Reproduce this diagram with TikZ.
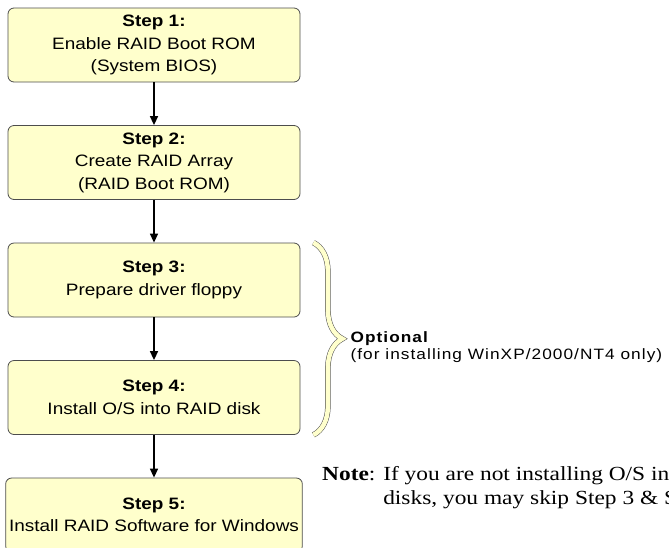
\documentclass[tikz,border=0pt]{standalone}
\usepackage{fontspec}
\setmainfont{Liberation Serif}
\newfontfamily\boxfont[FakeStretch=1.15]{Liberation Sans}
\newfontfamily\optfont[FakeStretch=1.15,LetterSpace=7]{Liberation Sans}
\newfontfamily\notefont[FakeStretch=1.17]{Liberation Serif}
\usepackage{xcolor}
\usetikzlibrary{decorations.pathreplacing,arrows.meta,positioning,calc}
\definecolor{boxyellow}{HTML}{FFFFCC}
\definecolor{boxline}{HTML}{4D4D4D}

\begin{document}
\begin{tikzpicture}[
    x=1pt,y=1pt,
    node distance=117.5pt,
    box/.style={rectangle,draw=boxline,line width=0.8pt,rounded corners=6pt,fill=boxyellow,minimum width=292pt,minimum height=74pt,align=center,font=\boxfont\fontsize{16.5}{22.5}\selectfont},
    arrow/.style={-{Triangle[length=9pt,width=8pt]},line width=1.5pt},
    optlabel/.style={align=left,inner sep=0pt,font=\optfont\fontsize{15}{17}\selectfont},
    notetext/.style={align=left,inner sep=0pt,font=\notefont\fontsize{20}{24.5}\selectfont},
    bracestyle/.style={decorate,decoration={brace,amplitude=29pt},draw=boxline,line width=0.5pt,double=boxyellow,double distance=4.5pt}
]
    \useasboundingbox (0,0) rectangle (669,-547);
    \clip (0,0) rectangle (669,-547);

    % Nodes
    \node[box] (step1) at (154,-45) {\textbf{Step 1:}\\Enable RAID Boot ROM\\(System BIOS)};
    \node[box,below of=step1] (step2) {\textbf{Step 2:}\\Create RAID Array\\(RAID Boot ROM)};
    \node[box,below of=step2] (step3) {\textbf{Step 3:}\\Prepare driver floppy};
    \node[box,below of=step3] (step4) {\textbf{Step 4:}\\Install O/S into RAID disk};
    \node[box,below of=step4] (step5) {\textbf{Step 5:}\\Install RAID Software for Windows};

    % Arrows
    \draw[arrow] (step1) -- (step2);
    \draw[arrow] (step2) -- (step3);
    \draw[arrow] (step3) -- (step4);
    \draw[arrow] (step4) -- (step5);

    % Optional steps
    \draw[bracestyle] ([xshift=13pt]step3.north east) -- ([xshift=13pt]step4.south east);
    \coordinate (tip) at ($(step3.north east)!0.5!(step4.south east)+(42,0)$);
    \node[optlabel,right=8pt of tip,yshift=-8pt] (optional) {\textbf{Optional}\\(for installing WinXP/2000/NT4 only)};

    % Note
    \node[notetext,anchor=north west] (note) at (322,-466) {\textbf{Note}: If you are not installing O/S into RAID\\\hphantom{\textbf{Note}: }disks, you may skip Step 3 \& Step 4.};
\end{tikzpicture}
\end{document}
